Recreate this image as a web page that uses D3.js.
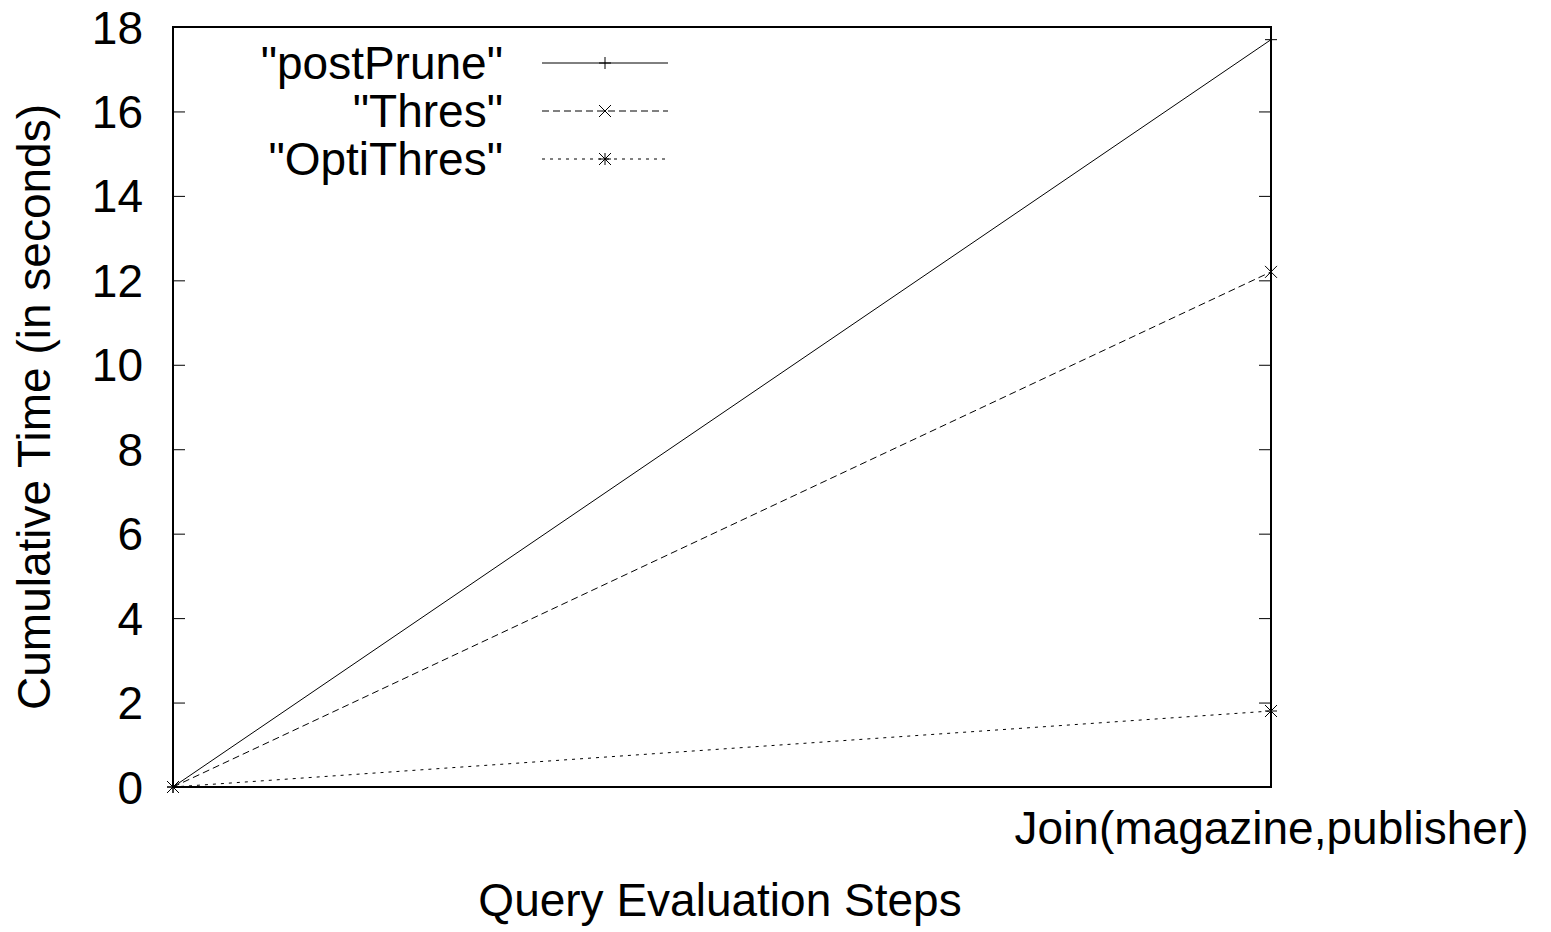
<!DOCTYPE html>
<html>
<head>
<meta charset="utf-8">
<script src="https://cdn.jsdelivr.net/npm/d3@7"></script>
<style>
  html, body { margin: 0; padding: 0; background: #fff; }
  svg text { font-family: "Liberation Sans", Arial, Helvetica, sans-serif; fill: #000; }
</style>
</head>
<body>
<div id="chart"></div>
<script>
// Query steps along the x axis (the first one has no label)
const steps = ["", "Join(magazine,publisher)"];
const yTicks = [0, 2, 4, 6, 8, 10, 12, 14, 16, 18];

// Cumulative time per step, one array per method
const postPrune = [0, 17.7];
const thres = [0, 12.2];
const optiThres = [0, 1.8];

const seriesNames = ["\"postPrune\"", "\"Thres\"", "\"OptiThres\""];

const series = [
  { name: seriesNames[0], values: postPrune, dash: null, marker: "plus" },
  { name: seriesNames[1], values: thres, dash: "7,4", marker: "cross" },
  { name: seriesNames[2], values: optiThres, dash: "3,5", marker: "star" }
];

const W = 1551, H = 932;
const margin = { top: 27, right: 280, bottom: 145, left: 173 };
const width = W - margin.left - margin.right,
  height = H - margin.top - margin.bottom;

const svg = d3.select("#chart").append("svg")
  .attr("width", W)
  .attr("height", H);

const g = svg.append("g")
  .attr("transform", "translate(" + margin.left + "," + margin.top + ")");

const x = d3.scalePoint().domain(d3.range(steps.length)).range([0, width]);
const y = d3.scaleLinear().domain([0, 18]).range([height, 0]);

const fontSize = 46;

// Left axis with inward ticks
const yAxis = g.append("g")
  .call(d3.axisLeft(y).tickValues(yTicks).tickSize(-12).tickPadding(30));
yAxis.select(".domain").remove();
yAxis.selectAll(".tick line").attr("stroke", "#000").attr("stroke-width", 1);
yAxis.selectAll(".tick text")
  .style("font-size", fontSize + "px")
  .attr("dy", "0.35em");

// Mirrored ticks on the right
const yAxisR = g.append("g")
  .attr("transform", "translate(" + width + ",0)")
  .call(d3.axisRight(y).tickValues(yTicks).tickSize(-12).tickFormat(""));
yAxisR.select(".domain").remove();
yAxisR.selectAll(".tick line").attr("stroke", "#000").attr("stroke-width", 1);

// Bottom axis
const xAxis = g.append("g")
  .attr("transform", "translate(0," + height + ")")
  .call(d3.axisBottom(x).tickSize(-12).tickPadding(24).tickFormat(i => steps[i]));
xAxis.select(".domain").remove();
xAxis.selectAll(".tick line").attr("stroke", "#000");
xAxis.selectAll(".tick text")
  .style("font-size", fontSize + "px");

// Frame
g.append("rect")
  .attr("x", 0).attr("y", 0)
  .attr("width", width).attr("height", height)
  .attr("fill", "none")
  .attr("stroke", "#000")
  .attr("stroke-width", 2);

// Axis titles
svg.append("text")
  .attr("x", 720)
  .attr("y", 916)
  .attr("text-anchor", "middle")
  .style("font-size", fontSize + "px")
  .text("Query Evaluation Steps");

svg.append("text")
  .attr("transform", "translate(50," + (margin.top + height / 2) + ") rotate(-90)")
  .attr("text-anchor", "middle")
  .style("font-size", fontSize + "px")
  .text("Cumulative Time (in seconds)");

function marker(sel, type, s) {
  let d;
  if (type === "plus") d = `M${-s},0H${s}M0,${-s}V${s}`;
  else if (type === "cross") d = `M${-s},${-s}L${s},${s}M${-s},${s}L${s},${-s}`;
  else d = `M${-s},0H${s}M0,${-s}V${s}M${-s},${-s}L${s},${s}M${-s},${s}L${s},${-s}`;
  sel.append("path").attr("d", d).attr("stroke", "#000").attr("stroke-width", 1).attr("fill", "none");
}

const line = d3.line().x((d, i) => x(i)).y(d => y(d));

series.forEach((s, k) => {
  g.append("path")
    .datum(s.values)
    .attr("d", line)
    .attr("fill", "none")
    .attr("stroke", "#000")
    .attr("stroke-width", 1)
    .attr("stroke-dasharray", s.dash);

  s.values.forEach((v, i) => {
    g.append("g")
      .attr("transform", "translate(" + x(i) + "," + y(v) + ")")
      .call(marker, s.marker, 6);
  });

  // Legend entry
  const ly = 63 - margin.top + k * 48;
  g.append("text")
    .attr("x", 503 - margin.left)
    .attr("y", ly)
    .attr("dy", "0.35em")
    .attr("text-anchor", "end")
    .style("font-size", fontSize + "px")
    .text(s.name);
  g.append("line")
    .attr("x1", 542 - margin.left).attr("x2", 668 - margin.left)
    .attr("y1", ly).attr("y2", ly)
    .attr("stroke", "#000")
    .attr("stroke-width", 1)
    .attr("stroke-dasharray", s.dash);
  g.append("g")
    .attr("transform", "translate(" + (605 - margin.left) + "," + ly + ")")
    .call(marker, s.marker, 6);
});
</script>
</body>
</html>
